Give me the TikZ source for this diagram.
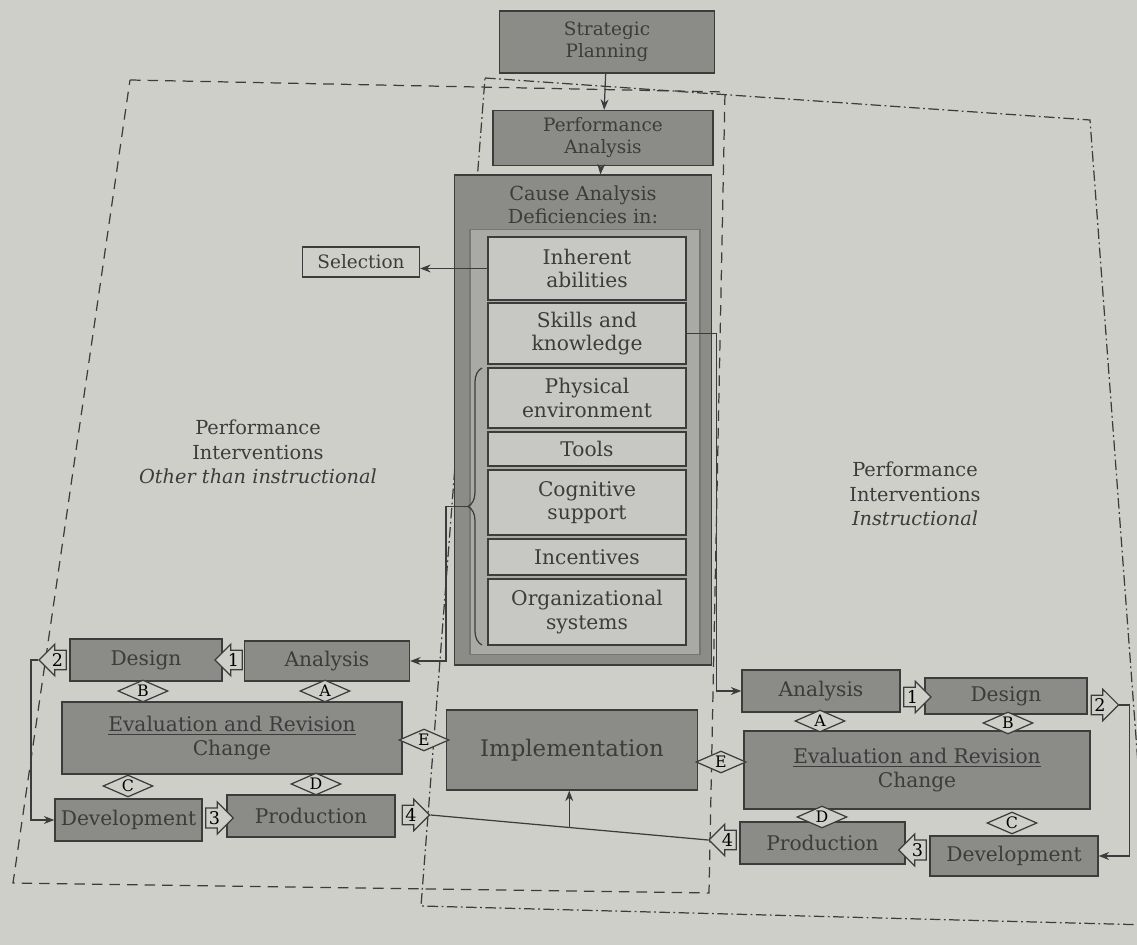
\documentclass[tikz,border=0pt]{standalone}
\usepackage{fontspec}
\setmainfont{DejaVu Serif}
\usepackage{xcolor}
\usepackage{tikz}
\usetikzlibrary{shapes.geometric,shapes.arrows,decorations.pathreplacing,calc,arrows.meta}
\definecolor{PageBg}{HTML}{CFCFCA}
\definecolor{BoxDark}{HTML}{8B8B88}
\definecolor{FrameMid}{HTML}{A9A9A5}
\definecolor{CellFill}{HTML}{C7C7C3}
\definecolor{Ink}{HTML}{3C3C3C}

\begin{document}
\begin{tikzpicture}[x=0.02cm,y=-0.02cm,line width=0.7pt,
  darkbox/.style={draw=Ink,fill=BoxDark,text=Ink,align=center,inner sep=1pt,font=\fontsize{11.5}{13.5}\selectfont},
  cell/.style={draw=Ink,fill=CellFill,text=Ink,align=center,inner sep=1pt,minimum width=3.96cm,font=\fontsize{11.5}{13.5}\selectfont},
  tag/.style={diamond,draw=Ink,fill=PageBg,aspect=2.5,inner sep=0.5pt,minimum width=1cm,minimum height=0.44cm,font=\fontsize{9}{9}\selectfont},
  stepr/.style={single arrow,draw=Ink,fill=PageBg,inner sep=1.5pt,single arrow head extend=3.5pt,minimum height=0.52cm,font=\fontsize{10}{10}\selectfont},
  stepl/.style={stepr,shape border rotate=180},
  link/.style={draw=Ink,-{Stealth[length=6pt,width=4.5pt]}}]
\fill[PageBg] (0,0) rectangle (1137,945);
\clip (0,0) rectangle (1137,945);

% the two intervention areas
\draw[Ink,dash pattern=on 6pt off 4pt] (130,80) -- (725,92) -- (709,893) -- (13,883) -- cycle;
\draw[Ink,dash pattern=on 6pt off 2pt on 1pt off 2pt] (485,78) -- (1090,120) -- (1150,925) -- (421,906) -- cycle;

% centre column
\node[darkbox,minimum width=4.3cm,minimum height=1.24cm,font=\fontsize{10.5}{12.5}\selectfont] (strat) at (607,42) {Strategic\\Planning};
\node[darkbox,minimum width=4.4cm,minimum height=1.1cm,font=\fontsize{10.5}{12.5}\selectfont] (perf) at (603,138) {Performance\\Analysis};
\node[draw=Ink,fill=BoxDark,minimum width=5.14cm,minimum height=9.8cm] (cause) at (583,420) {};
\node[text=Ink,align=center,font=\fontsize{11}{13}\selectfont] (causetitle) at (583,205) {Cause Analysis\\Deficiencies in:};
\node[draw=Ink!70,fill=FrameMid,minimum width=4.6cm,minimum height=8.5cm] (frame) at (585,442) {};
\foreach \nm/\yc/\h/\txt in {inh/268.5/63/{Inherent\\abilities},skl/333.5/61/{Skills and\\knowledge},phy/398/60/{Physical\\environment},tools/449/34/{Tools},cog/502.5/65/{Cognitive\\support},inc/557/36/{Incentives},org/612/66/{Organizational\\systems}} {
  \node[cell,minimum height=\h*0.02cm] (\nm) at (587,\yc) {\txt};
}
\node[draw=Ink,text=Ink,minimum width=2.34cm,minimum height=0.6cm,inner sep=1pt,font=\fontsize{10.5}{12}\selectfont] (sel) at (361,262) {Selection};
\draw[Ink,decorate,decoration={brace,amplitude=8pt}] (482,645) -- (482,368);
\coordinate (brtip) at (468,506.5);

\node[darkbox,minimum width=5.02cm,minimum height=1.6cm,font=\fontsize{13}{15}\selectfont] (impl) at (572,750) {Implementation};

% other than instructional
\node[darkbox,minimum width=3.04cm,minimum height=0.84cm] (ldes) at (146,660) {Design};
\node[darkbox,minimum width=3.3cm,minimum height=0.8cm] (lana) at (327,661) {Analysis};
\node[darkbox,minimum width=6.8cm,minimum height=1.44cm] (leval) at (232,738) {\underline{Evaluation and Revision}\\Change};
\node[darkbox,minimum width=2.94cm,minimum height=0.84cm] (ldev) at (128.5,820) {Development};
\node[darkbox,minimum width=3.36cm,minimum height=0.84cm] (lprod) at (311,816) {Production};
\node[stepl] (l1) at (233.5,660) {1};
\node[stepl] (l2) at (57.5,660) {2};
\node[stepr] (l3) at (214.5,818) {3};
\node[stepr] (l4) at (411,815) {4};
\foreach \nm/\xc/\yc/\lt in {lB/143/691/B,lA/325/691/A,lC/128/786/C,lD/316/784/D,lE/424/740/E} {
  \node[tag] (\nm) at (\xc,\yc) {\lt};
}

% instructional
\node[darkbox,minimum width=3.16cm,minimum height=0.84cm] (rana) at (821,691) {Analysis};
\node[darkbox,minimum width=3.24cm,minimum height=0.72cm] (rdes) at (1006,696) {Design};
\node[darkbox,minimum width=6.92cm,minimum height=1.56cm] (reval) at (917,770) {\underline{Evaluation and Revision}\\Change};
\node[darkbox,minimum width=3.3cm,minimum height=0.84cm] (rprod) at (822.5,843) {Production};
\node[darkbox,minimum width=3.36cm,minimum height=0.8cm] (rdev) at (1014,856) {Development};
\node[stepr] (r1) at (912.5,697) {1};
\node[stepr] (r2) at (1100,705) {2};
\node[stepl] (r3) at (917.5,850) {3};
\node[stepl] (r4) at (727.5,840) {4};
\foreach \nm/\xc/\yc/\lt in {rA/820/721/A,rB/1008/723/B,rD/822/817/D,rC/1012/823/C,rE/721/762/E} {
  \node[tag] (\nm) at (\xc,\yc) {\lt};
}

\node[text=Ink,align=center,font=\fontsize{11}{14}\selectfont] (lefttitle) at (258,452) {Performance\\Interventions\\\textit{Other than instructional}};
\node[text=Ink,align=center,font=\fontsize{11}{14}\selectfont] (righttitle) at (915,494) {Performance\\Interventions\\\textit{Instructional}};

% connectors
\draw[link] (strat) -- (perf);
\draw[link] (perf) -- (cause);
\draw[link] (inh.west) -- (inh.west -| sel.east);
\draw[link] (brtip) -- ++(-22,0) |- (lana.east);
\draw[link] (skl.east) -- ++(30,0) |- (rana.west);
\draw[link] (l2.tip) -- ++(-7,0) |- (ldev.west);
\draw[link] (r2.tip) -- ++(10,0) |- (rdev.east);
\draw[Ink] (l4.tip) -- (r4.tip);
\coordinate (jn) at ($(l4.tip)!0.5!(r4.tip)$);
\draw[link] (jn) -- (jn |- impl.south);
\end{tikzpicture}
\end{document}
